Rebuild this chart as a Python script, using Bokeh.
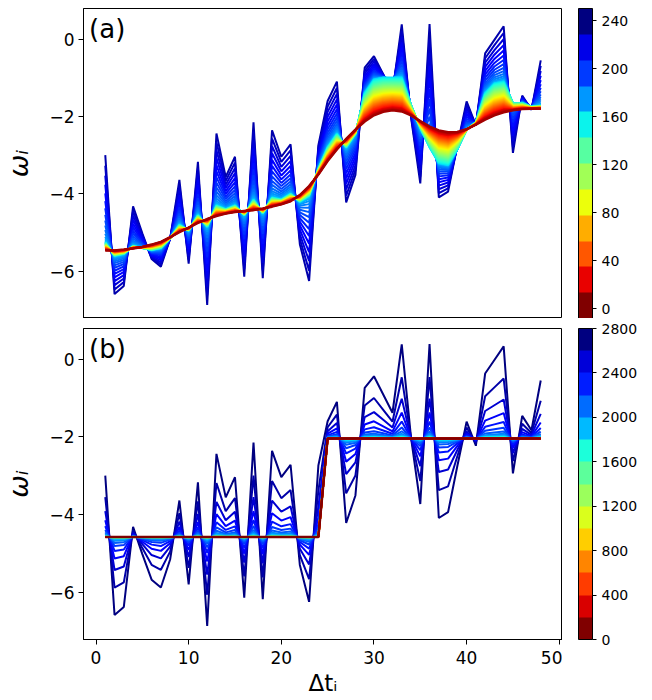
import numpy as np
from bokeh.plotting import figure
from bokeh.models import (ColorBar, LinearColorMapper, FixedTicker, Label,
                          Range1d, CustomJSTickFormatter)
from bokeh.layouts import column, row
from bokeh.embed import file_html
from bokeh.resources import INLINE

# ---------------- data ----------------
dt = list(range(1, 49))

# observed (noisy) weights, outermost dark-navy curve in both panels
omega_obs = [-3.00, -6.59, -6.38, -4.32, -5.02, -5.68, -5.88, -5.16, -3.64, -5.80,
             -3.17, -6.87, -2.44, -3.56, -3.04, -6.14, -2.15, -6.18, -2.36, -3.04,
             -2.72, -5.30, -6.25, -2.74, -1.60, -1.10, -4.22, -3.51, -0.74, -0.44,
             -0.91, -1.38, 0.38, -2.02, -3.73, 0.39, -4.09, -3.94, -2.75, -1.61,
             -2.23, -0.37, -0.02, 0.33, -2.94, -1.46, -1.83, -0.55]

# panel (a): intermediate curve at level 160 (light blue / cyan edge of the band)
omega_mid = [-5.25, -5.60, -5.55, -5.35, -5.40, -5.45, -5.40, -5.15, -4.80, -4.95,
             -4.55, -4.85, -4.30, -4.40, -4.30, -4.55, -4.15, -4.50, -4.10, -4.15,
             -4.00, -4.20, -4.05, -3.35, -2.80, -2.45, -2.80, -2.45, -1.40, -1.05,
             -1.00, -1.00, -1.00, -1.70, -2.30, -2.80, -3.20, -3.25, -2.85, -2.35,
             -2.15, -1.40, -1.15, -1.10, -1.65, -1.65, -1.75, -1.72]

# panel (a): final smooth curve (level 0, dark red)
omega_smooth = [-5.46, -5.46, -5.44, -5.41, -5.37, -5.31, -5.24, -5.12, -4.99, -4.87,
                -4.75, -4.65, -4.57, -4.51, -4.47, -4.44, -4.42, -4.38, -4.33, -4.27,
                -4.19, -4.03, -3.80, -3.50, -3.15, -2.85, -2.58, -2.34, -2.13, -1.97,
                -1.88, -1.84, -1.87, -1.97, -2.12, -2.26, -2.36, -2.41, -2.40, -2.33,
                -2.21, -2.08, -1.97, -1.89, -1.84, -1.81, -1.80, -1.80]

# panel (b): final piecewise-constant curve (level 0, dark red)
omega_step = [-4.58, -4.58, -4.58, -4.58, -4.58, -4.58, -4.58, -4.58, -4.58, -4.58,
              -4.58, -4.58, -4.58, -4.58, -4.58, -4.58, -4.58, -4.58, -4.58, -4.58,
              -4.58, -4.58, -4.58, -4.58, -2.04, -2.04, -2.04, -2.04, -2.04, -2.04,
              -2.04, -2.04, -2.04, -2.04, -2.04, -2.04, -2.04, -2.04, -2.04, -2.04,
              -2.04, -2.04, -2.04, -2.04, -2.04, -2.04, -2.04, -2.04]

# iteration levels drawn (colour bar values)
levels_a = list(range(240, -1, -5))
levels_b = list(range(2800, -1, -100))
mid_level_a = 160

ticks_a = [0, 40, 80, 120, 160, 200, 240]
ticks_b = [0, 400, 800, 1200, 1600, 2000, 2400, 2800]
yticks = [-6, -4, -2, 0]
xticks = [0, 10, 20, 30, 40, 50]

FONT = "DejaVu Sans"


def jet(v):
    r = np.interp(v, [0, 0.35, 0.66, 0.89, 1], [0, 0, 1, 1, 0.5])
    g = np.interp(v, [0, 0.125, 0.375, 0.64, 0.91, 1], [0, 0, 1, 1, 0, 0])
    b = np.interp(v, [0, 0.11, 0.34, 0.65, 1], [0.5, 1, 1, 0, 0])
    return "#%02x%02x%02x" % (int(round(r * 255)), int(round(g * 255)), int(round(b * 255)))


x = np.array(dt, dtype=float)
obs = np.array(omega_obs)
mid = np.array(omega_mid)

minus = CustomJSTickFormatter(code="return String(tick).replace('-', '\u2212');")


def make_fig(show_x, frame_h, top, bottom):
    p = figure(frame_width=479, frame_height=frame_h, output_backend="svg",
               toolbar_location=None, x_range=Range1d(-1.35, 50.35),
               y_range=Range1d(-7.22, 0.79),
               min_border_left=10, min_border_right=0,
               min_border_top=top, min_border_bottom=bottom)
    p.grid.visible = False
    p.outline_line_color = "black"
    p.outline_line_width = 1
    p.background_fill_color = "white"
    p.border_fill_color = "white"
    for ax in (p.xaxis[0], p.yaxis[0]):
        ax.axis_line_color = "black"
        ax.major_tick_line_color = "black"
        ax.minor_tick_line_color = None
        ax.major_tick_out = 5
        ax.major_tick_in = 0
        ax.major_label_text_font = FONT
        ax.major_label_text_font_size = "17px"
        ax.major_label_text_color = "black"
        ax.axis_label_text_font = FONT
        ax.axis_label_text_color = "black"
        ax.formatter = minus
    p.yaxis.ticker = FixedTicker(ticks=yticks)
    p.xaxis.ticker = FixedTicker(ticks=xticks)
    p.yaxis.axis_label = "ωᵢ"
    p.yaxis.axis_label_text_font_size = "27px"
    p.yaxis.axis_label_text_font_style = "italic"
    p.yaxis.axis_label_standoff = 12
    p.yaxis.major_label_standoff = 4
    if show_x:
        p.xaxis.axis_label = "Δtᵢ"
        p.xaxis.axis_label_text_font_size = "23px"
        p.xaxis.axis_label_text_font_style = "normal"
        p.xaxis.axis_label_standoff = 3
        p.xaxis.major_label_standoff = 6
    else:
        p.xaxis.visible = False
    return p


def cbar_fig(low, high, ncol, ticks, frame_h, top, bottom):
    f = figure(frame_width=1, frame_height=frame_h, output_backend="svg",
               toolbar_location=None, x_axis_location=None, y_axis_location=None,
               min_border_left=15, min_border_right=0,
               min_border_top=top, min_border_bottom=bottom)
    f.grid.visible = False
    f.outline_line_color = None
    f.background_fill_color = "white"
    f.border_fill_color = "white"
    pal = [jet(1 - i / (ncol - 1)) for i in range(ncol)]
    mapper = LinearColorMapper(palette=pal, low=low, high=high)
    cb = ColorBar(color_mapper=mapper, ticker=FixedTicker(ticks=ticks),
                  width=14, padding=0, margin=0,
                  bar_line_color="black", bar_line_width=1,
                  major_tick_line_color="black", major_tick_in=0, major_tick_out=4,
                  minor_tick_line_color=None,
                  major_label_text_font=FONT, major_label_text_font_size="14px",
                  major_label_text_color="black", label_standoff=5,
                  border_line_color=None, background_fill_color=None)
    f.add_layout(cb, "right")
    return f


# ---------------- panel (a) ----------------
pa = make_fig(False, 310, 8, 0)
fin_a = np.array(omega_smooth)
lo_a, hi_a = -8, 250
for t in levels_a:
    if t >= mid_level_a:
        g = ((t - mid_level_a) / (240 - mid_level_a)) ** 2
        y = mid + g * (obs - mid)
    else:
        h = t / mid_level_a
        y = fin_a + h * (mid - fin_a)
    c = jet(1 - (t - lo_a) / (hi_a - lo_a))
    pa.line(x, y, line_color=c, line_width=2 if t > 0 else 2.5)
pa.add_layout(Label(x=-0.75, y=0.64, text="(a)", text_font=FONT,
                    text_font_size="26px", text_baseline="top", text_color="black"))
cba = cbar_fig(lo_a, hi_a, 12, ticks_a, 310, 8, 0)

# ---------------- panel (b) ----------------
pb = make_fig(True, 311, 10, 0)
fin_b = np.array(omega_step)
res_b = obs - fin_b
for k, t in enumerate(levels_b):
    w = 0.65 ** k
    y = fin_b + w * res_b
    c = jet(1 - t / 2800.0)
    pb.line(x, y, line_color=c, line_width=2 if t > 0 else 2.5)
pb.add_layout(Label(x=-0.75, y=0.64, text="(b)", text_font=FONT,
                    text_font_size="26px", text_baseline="top", text_color="black"))
cbb = cbar_fig(0, 2800, 14, ticks_b, 311, 10, 14)

layout = column(row(pa, cba, spacing=0), row(pb, cbb, spacing=0), spacing=0)
open("out.html", "w").write(file_html(layout, INLINE))
